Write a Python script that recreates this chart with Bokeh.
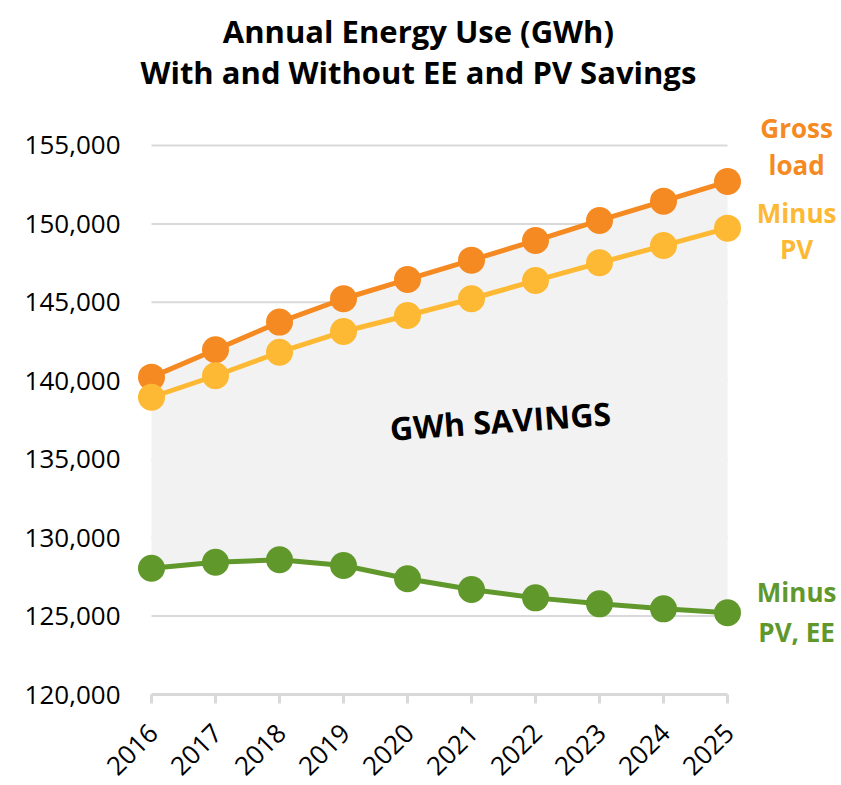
import math
from bokeh.plotting import figure
from bokeh.models import ColumnDataSource
from bokeh.core.properties import value
from bokeh.embed import file_html
from bokeh.resources import INLINE

# ---- data ----
years = [2016, 2017, 2018, 2019, 2020, 2021, 2022, 2023, 2024, 2025]
year_labels = ["2016", "2017", "2018", "2019", "2020", "2021", "2022", "2023", "2024", "2025"]
gross_load = [140230, 141980, 143740, 145230, 146460, 147690, 148940, 150220, 151450, 152700]
minus_pv = [138950, 140320, 141820, 143140, 144160, 145230, 146390, 147520, 148620, 149730]
minus_pv_ee = [128050, 128430, 128590, 128220, 127380, 126690, 126160, 125780, 125460, 125210]
y_ticks = [120000, 125000, 130000, 135000, 140000, 145000, 150000, 155000]
y_tick_labels = ["120,000", "125,000", "130,000", "135,000", "140,000", "145,000", "150,000", "155,000"]
title_lines = ["Annual Energy Use (GWh)", "With and Without EE and PV Savings"]

ORANGE = "#F58A22"
YELLOW = "#FDB933"
GREEN = "#61982B"
AXIS_GRAY = "#D9D9D9"
FONT = "Open Sans"

Y0 = y_ticks[0]
PX = 63.75        # data units per pixel on the y scale
XPX = 1.0 / 64.0  # years per pixel on the x scale

p = figure(width=839, height=784,
           x_range=(years[0] - 151 * XPX, years[0] + 688 * XPX),
           y_range=(Y0 - 90 * PX, Y0 + 694 * PX),
           output_backend="svg", toolbar_location=None,
           x_axis_location=None, y_axis_location=None, min_border=0)
p.outline_line_color = None
p.xgrid.visible = False
p.ygrid.visible = False
p.background_fill_color = "white"

n = len(y_ticks) - 1
# gridlines (only across the data span)
p.segment(x0=[years[0]] * n, x1=[years[-1]] * n,
          y0=y_ticks[1:], y1=y_ticks[1:], line_color=AXIS_GRAY, line_width=2)

# savings area
p.varea(x=years, y1=minus_pv_ee, y2=gross_load, fill_color="#F2F2F2")

# x axis line, ticks and labels
p.segment(x0=[years[0]], x1=[years[-1]], y0=[Y0], y1=[Y0], line_color=AXIS_GRAY, line_width=3)
p.segment(x0=years, x1=years, y0=[Y0] * len(years), y1=[Y0 - 9 * PX] * len(years),
          line_color=AXIS_GRAY, line_width=3)
p.text(x=[yr + 2 * XPX for yr in years], y=[Y0 - 34 * PX] * len(years), text=year_labels,
       angle=math.pi / 4,
       text_font=value(FONT), text_font_size="26px", text_color="black",
       text_align="right", text_baseline="middle")

# y tick labels
p.text(x=[years[0] - 31 * XPX] * len(y_ticks), y=y_ticks, text=y_tick_labels,
       text_font=value(FONT), text_font_size="26px", text_color="black",
       text_align="right", text_baseline="middle")

for series, col in [(gross_load, ORANGE), (minus_pv, YELLOW), (minus_pv_ee, GREEN)]:
    p.line(years, series, line_color=col, line_width=5)
    p.scatter(years, series, size=27, fill_color=col, line_color=None)

# title
p.text(x=[2020.17, 2020.17], y=[162330, 159716], text=title_lines,
       text_font=value(FONT), text_font_style="bold", text_font_size="31px",
       text_align="center", text_baseline="middle", text_color="black")

# series labels
lab = ColumnDataSource(dict(
    x=[2026.08, 2026.08, 2026.08, 2026.08, 2026.08, 2026.08],
    y=[156083, 153724, 150727, 148432, 126503, 124016],
    t=["Gross", "load", "Minus", "PV", "Minus", "PV, EE"],
    c=[ORANGE, ORANGE, YELLOW, YELLOW, GREEN, GREEN]))
p.text(x="x", y="y", text="t", text_color="c", source=lab,
       text_font=value(FONT), text_font_style="bold", text_font_size="26px",
       text_align="center", text_baseline="middle")

# savings label
p.text(x=[2021.45], y=[137468], text=["GWh SAVINGS"], angle=0.07,
       text_font=value(FONT), text_font_style="bold", text_font_size="32px",
       text_align="center", text_baseline="middle", text_color="black")

open("out.html", "w").write(file_html(p, INLINE))
